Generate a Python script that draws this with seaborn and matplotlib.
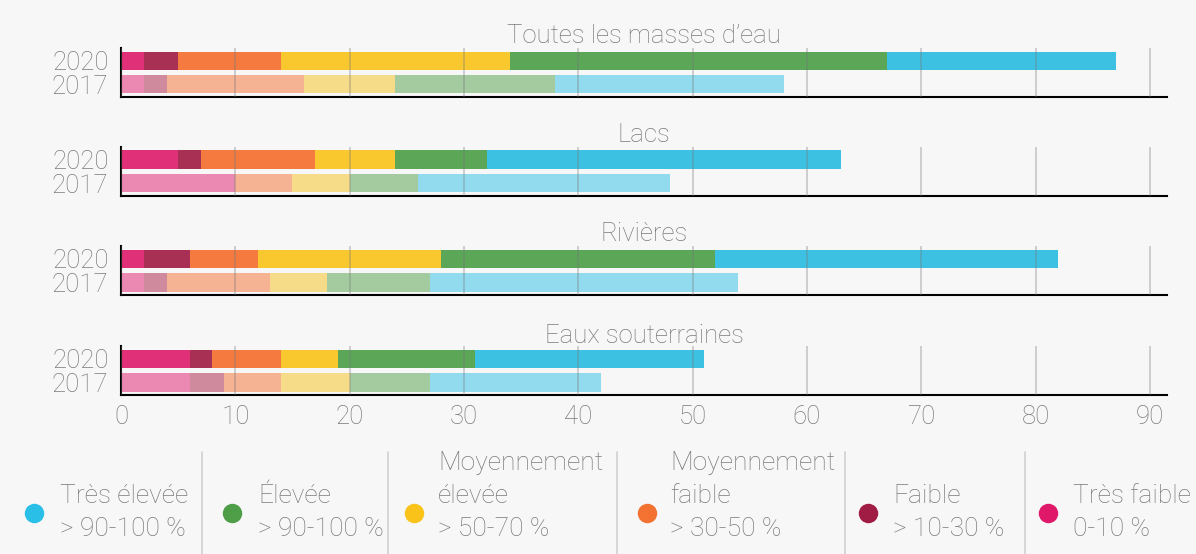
import numpy as np
import matplotlib.pyplot as plt
import seaborn as sns

# data (segments, from "Très faible" to "Très élevée")
groups = ["Toutes les masses d’eau", "Lacs", "Rivières", "Eaux souterraines"]
years = ["2020", "2017"]
vals_2020 = [[2, 3, 9, 20, 33, 20],
             [5, 2, 10, 7, 8, 31],
             [2, 4, 6, 16, 24, 30],
             [6, 2, 6, 5, 12, 20]]
vals_2017 = [[2, 2, 12, 8, 14, 20],
             [10, 0, 5, 5, 6, 22],
             [2, 2, 9, 5, 9, 27],
             [6, 3, 5, 6, 7, 15]]

legend_names = [["Très élevée"], ["Élevée"], ["Moyennement", "élevée"],
                ["Moyennement", "faible"], ["Faible"], ["Très faible"]]
legend_ranges = ["> 90-100 %", "> 90-100 %", "> 50-70 %", "> 30-50 %", "> 10-30 %", "0-10 %"]

# colours, pink .. blue
colors_2020 = ["#E03077", "#A93055", "#F47A40", "#F8C82E", "#5BA757", "#3DC1E3"]
colors_2017 = ["#EB89B2", "#CF8A9E", "#F6B394", "#F6DC88", "#A4CB9F", "#92DBEF"]
legend_colors = ["#29BFE6", "#4E9E48", "#F9C31A", "#F37232", "#A01C44", "#E0186A"]

bg = "#F7F7F7"
txt = "#7A7A7A"

sns.set_theme(style="white")
plt.rcParams["font.family"] = ["Roboto", "DejaVu Sans"]
plt.rcParams["font.weight"] = "light"

W, H = 1196, 554
fig = plt.figure(figsize=(W / 100, H / 100), dpi=100, facecolor=bg)

# axes pixel extents (top, bottom)
extents = [(48, 97), (147, 196), (246, 295), (346, 395)]
left, right = 121, 1167

for i, grp in enumerate(groups):
    top, bot = extents[i]
    ax = fig.add_axes([left / W, 1 - bot / H, (right - left) / W, (bot - top) / H])
    ax.set_facecolor(bg)
    c20 = np.cumsum(vals_2020[i])
    c17 = np.cumsum(vals_2017[i])
    # overlay cumulative bars, longest first
    for k in reversed(range(6)):
        sns.barplot(x=[c20[k], c17[k]], y=years, hue=years,
                    palette=[colors_2020[k], colors_2017[k]],
                    orient="h", ax=ax, legend=False, width=0.8,
                    linewidth=0, saturation=1)
    ax.set_xlim(0, 91.5)
    ax.set_ylim(1.55, -0.55)
    ax.set_xticks(range(0, 100, 10))
    ax.set_axisbelow(False)
    ax.grid(axis="x", color="#777777", alpha=0.35, lw=1.3)
    ax.grid(axis="y", visible=False)
    for s in ["top", "right"]:
        ax.spines[s].set_visible(False)
    for s in ["left", "bottom"]:
        ax.spines[s].set_color("black")
        ax.spines[s].set_linewidth(1.5)
    ax.set_xlabel("")
    ax.set_ylabel("")
    ax.tick_params(length=0, labelsize=18.5, labelcolor=txt)
    ax.tick_params(axis="y", pad=9)
    if i < len(groups) - 1:
        ax.set_xticklabels([])
    else:
        ax.tick_params(axis="x", pad=7)
    ax.set_title(grp, fontsize=18.5, color=txt, pad=2, fontweight="light")

# legend in pixel coordinates
lax = fig.add_axes([0, 0, 1, 1])
lax.set_xlim(0, W)
lax.set_ylim(H, 0)
lax.axis("off")
dot_x = [34, 232, 414, 647, 868, 1048]
text_x = [60, 258, 438, 670, 893, 1073]
sep_x = [202, 388, 617, 845, 1025]
for x in sep_x:
    lax.plot([x, x], [452, 554], color="#D0D0D0", lw=1.2)
for j in range(6):
    lax.plot(dot_x[j], 513, "o", ms=14, color=legend_colors[j], mec="none")
    lines = legend_names[j] + [legend_ranges[j]]
    y0 = 529 - 33 * (len(lines) - 1)
    for n, line in enumerate(lines):
        lax.text(text_x[j], y0 + 33 * n, line, fontsize=19, color=txt,
                 va="center", ha="left")

fig.savefig("out.png", dpi=100, facecolor=bg)
